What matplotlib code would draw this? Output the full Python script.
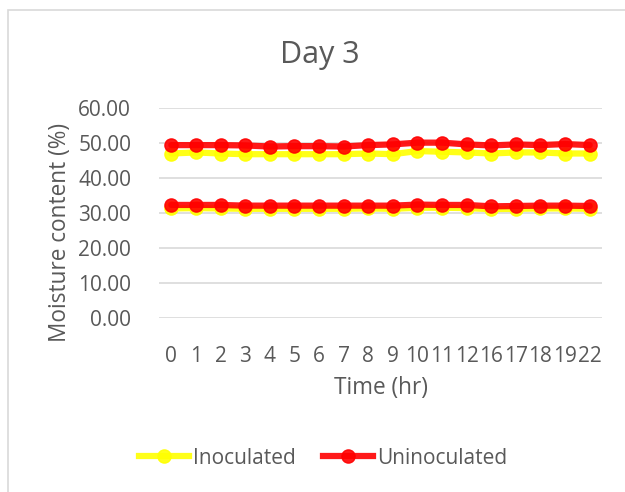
import matplotlib
matplotlib.use("Agg")
import matplotlib.pyplot as plt
from matplotlib.lines import Line2D
from matplotlib.patches import Rectangle

hours = ['0', '1', '2', '3', '4', '5', '6', '7', '8', '9', '10', '11', '12', '16', '17', '18', '19', '22']
inoculated_a = [47.0, 47.3, 47.0, 46.8, 46.8, 46.8, 46.8, 46.8, 47.0, 46.8, 47.7, 47.5, 47.3, 47.0, 47.3, 47.3, 47.0, 47.0]
inoculated_b = [31.3, 31.4, 31.3, 31.2, 31.2, 31.2, 31.2, 31.2, 31.3, 31.2, 31.5, 31.5, 31.4, 31.1, 31.2, 31.3, 31.3, 31.2]
uninoculated_a = [49.4, 49.4, 49.4, 49.3, 49.0, 49.1, 49.1, 49.0, 49.4, 49.6, 50.1, 50.1, 49.6, 49.3, 49.6, 49.4, 49.7, 49.4]
uninoculated_b = [32.3, 32.3, 32.3, 32.1, 32.1, 32.1, 32.1, 32.1, 32.1, 32.1, 32.4, 32.3, 32.3, 31.9, 32.0, 32.1, 32.1, 32.0]
yticks = [0, 10, 20, 30, 40, 50, 60]

plt.rcParams['font.family'] = ['Open Sans', 'DejaVu Sans']
txt = '#595959'

fig = plt.figure(figsize=(6.25, 4.92), dpi=100)
fig.patch.set_facecolor('white')
# chart border
fig.patches.append(Rectangle((8/625, -0.1), 1.2, 1 - 10/492 + 0.1, transform=fig.transFigure,
                             fill=False, edgecolor='#D9D9D9', linewidth=1.2))

ax = fig.add_axes([159/625, 1 - 318/492, (602-159)/625, (318-108)/492])
ax.set_facecolor('none')
x = list(range(len(hours)))

yellow = '#FFFF00'
red = '#FF0000'
for ys in (inoculated_a, inoculated_b):
    ax.plot(x, ys, color=yellow, lw=4.5, marker='o', ms=9.5, alpha=0.9, zorder=3, solid_capstyle='round')
for ys in (uninoculated_a, uninoculated_b):
    ax.plot(x, ys, color=red, lw=4.5, marker='o', ms=9.5, alpha=0.9, zorder=4, solid_capstyle='round')

ax.set_xlim(-0.5, len(hours) - 0.5)
ax.set_ylim(0, 60)
ax.set_yticks(yticks)
ax.set_yticklabels([f"{v:.2f}" for v in yticks])
ax.set_xticks(x)
ax.set_xticklabels(hours)
ax.grid(axis='y', color='#D9D9D9', lw=1.2)
ax.set_axisbelow(True)
for s in ax.spines.values():
    s.set_visible(False)
ax.tick_params(axis='both', length=0, labelsize=15, labelcolor=txt)
ax.tick_params(axis='y', pad=20)
ax.tick_params(axis='x', pad=20)

fig.text(320/625, 1 - 55/492, 'Day 3', ha='center', va='center', fontsize=22, color=txt)
fig.text(60/625, 1 - 232/492, 'Moisture content (%)', ha='center', va='center', rotation=90,
         fontsize=16.3, color=txt)
fig.text(381/625, 1 - 388/492, 'Time (hr)', ha='center', va='center', fontsize=16.3, color=txt)

handles = [Line2D([], [], color=yellow, lw=4.5, marker='o', ms=9.5, alpha=0.9),
           Line2D([], [], color=red, lw=4.5, marker='o', ms=9.5, alpha=0.9)]
fig.legend(handles, ['Inoculated', 'Uninoculated'], loc='center', bbox_to_anchor=(323/625, 1 - 458/492),
           ncol=2, frameon=False, fontsize=15, labelcolor=txt, handlelength=2.4,
           handletextpad=0.2, columnspacing=1.3)

fig.savefig('out.png', dpi=100, facecolor='white')
